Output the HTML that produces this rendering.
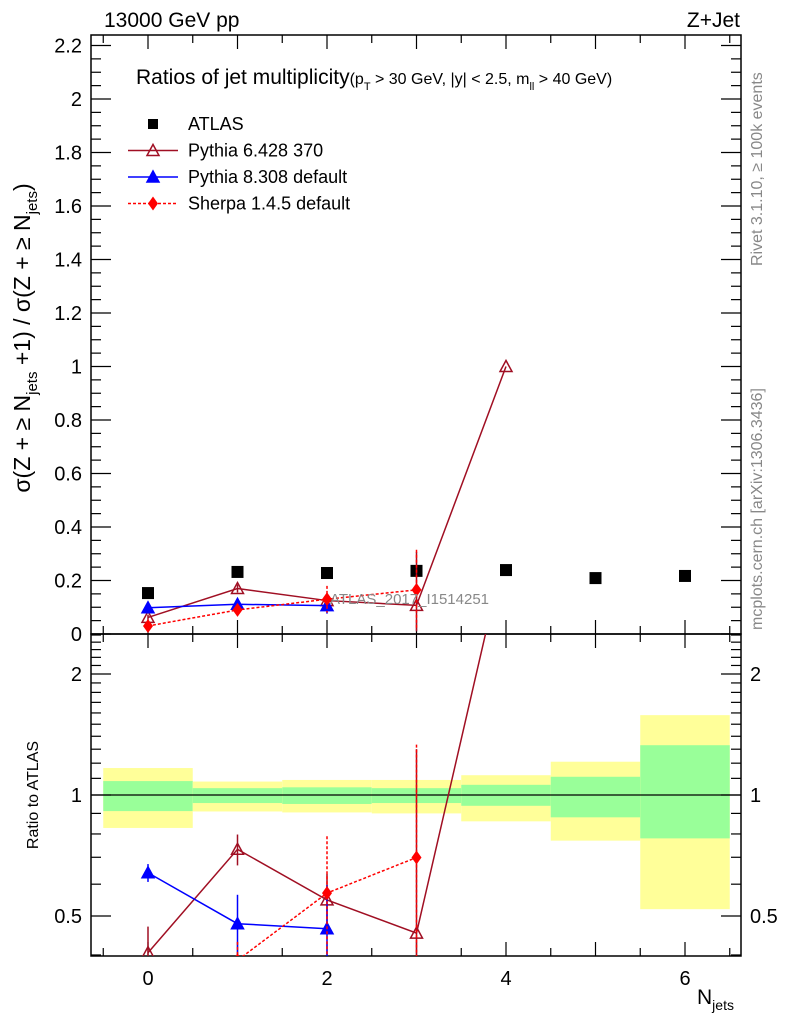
<!DOCTYPE html>
<html><head><meta charset="utf-8"><style>
html,body{margin:0;background:#fff;overflow:hidden;width:786px;height:1024px;}
svg{display:block;}
svg text{font-family:"Liberation Sans",sans-serif;}
</style></head><body>
<svg id="c" width="786" height="1024" xmlns="http://www.w3.org/2000/svg"></svg>
<script>
const categories=[0,1,2,3,4,5,6];
const atlas=[0.153,0.232,0.228,0.236,0.239,0.209,0.217];
const py6=[0.062,0.17,0.125,0.107,1.0];
const py6Err=[0.01,0.015,0.02,0.2,0];
const py8=[0.098,0.111,0.106];
const py8Err=[0.005,0.02,0.03];
const sherpa=[0.03,0.09,0.13,0.165];
const sherpaErr=[0.005,0.01,0.05,0.15];
const greenLo=[0.912,0.955,0.95,0.955,0.94,0.88,0.78];
const greenHi=[1.083,1.04,1.045,1.04,1.06,1.11,1.33];
const yellowLo=[0.828,0.91,0.905,0.90,0.86,0.77,0.52];
const yellowHi=[1.167,1.08,1.09,1.09,1.12,1.21,1.58];
const mainTicks=[0,0.2,0.4,0.6,0.8,1,1.2,1.4,1.6,1.8,2,2.2];
const mainTickLabels=["0","0.2","0.4","0.6","0.8","1","1.2","1.4","1.6","1.8","2","2.2"];
const xTickLabels=["0","2","4","6"];

const svg=document.getElementById('c');
const NS="http://www.w3.org/2000/svg";
const L=91,R=741,T=35,MB=634,RB=956;
const X=v=>148+(v)*89.5;
const Y=v=>634-v*267.5;
const RY=v=>795-402*Math.log10(v);
function el(tag,attrs,parent){const e=document.createElementNS(NS,tag);for(const k in attrs)e.setAttribute(k,attrs[k]);(parent||svg).appendChild(e);return e;}
function txt(s,x,y,attrs){const t=el('text',Object.assign({x:x,y:y},attrs||{}));t.textContent=s;return t;}

const defs=el('defs',{});
const c1=el('clipPath',{id:'cm'},defs);el('rect',{x:L,y:T,width:R-L,height:MB-T},c1);
const c2=el('clipPath',{id:'cr'},defs);el('rect',{x:L,y:MB,width:R-L,height:RB-MB},c2);

const gb=el('g',{'clip-path':'url(#cr)'});


categories.forEach((c,i)=>{
  const r1=el('rect',{x:X(c-0.5),y:RY(yellowHi[i]),width:89.5,height:RY(yellowLo[i])-RY(yellowHi[i]),fill:'#ffff99'},gb);
  
  
  const r2=el('rect',{x:X(c-0.5),y:RY(greenHi[i]),width:89.5,height:RY(greenLo[i])-RY(greenHi[i]),fill:'#99ff99'},gb);
  
  
});
el('line',{x1:L,x2:R,y1:RY(1),y2:RY(1),stroke:'#000','stroke-width':1.2});

el('rect',{x:L,y:T,width:R-L,height:MB-T,fill:'none',stroke:'#000','stroke-width':1.5});
el('rect',{x:L,y:MB,width:R-L,height:RB-MB,fill:'none',stroke:'#000','stroke-width':1.5});

for(let v=-0.5;v<=6.6;v+=0.5){
  const major=Number.isInteger(v);const len=major?14:8;
  [[T,1],[MB,-1],[MB,1],[RB,-1]].forEach(([y,d])=>el('line',{x1:X(v),x2:X(v),y1:y,y2:y+d*len,stroke:'#000','stroke-width':1.2}));
}
xTickLabels.forEach(s=>{const t=txt(s,X(+s),985,{'font-size':20,'text-anchor':'middle'});});

for(let v=0;v<=2.24;v+=0.05){const major=Math.abs(v*10-Math.round(v*10))<1e-6&&Math.round(v*10)%2===0;const len=major?20:10;
  el('line',{x1:L,x2:L+len,y1:Y(v),y2:Y(v),stroke:'#000','stroke-width':1.2});
  el('line',{x1:R,x2:R-len,y1:Y(v),y2:Y(v),stroke:'#000','stroke-width':1.2});}
mainTicks.forEach((v,i)=>{const t=txt(mainTickLabels[i],82,Y(v)+7,{'font-size':20,'text-anchor':'end'});});

const rt=[0.4,0.5,0.6,0.7,0.8,0.9,1,1.1,1.2,1.3,1.4,1.5,1.6,1.7,1.8,1.9,2,2.1,2.2,2.3,2.4,2.5];
rt.forEach(v=>{const major=(v===0.5||v===1||v===2);const len=major?20:10;
  el('line',{x1:L,x2:L+len,y1:RY(v),y2:RY(v),stroke:'#000','stroke-width':1.2});
  el('line',{x1:R,x2:R-len,y1:RY(v),y2:RY(v),stroke:'#000','stroke-width':1.2});});
[[0.5,'0.5'],[1,'1'],[2,'2']].forEach(([v,s])=>{txt(s,82,RY(v)+7,{'font-size':20,'text-anchor':'end'});txt(s,750,RY(v)+7,{'font-size':20});});

function series(vals,errs,color,dash,marker,clip,yf,name){
  const g=el('g',{'clip-path':clip});
  
  
  const pts=vals.map((v,i)=>X(categories[i])+','+yf(v)).join(' ');
  if(color)el('polyline',{points:pts,fill:'none',stroke:color,'stroke-width':1.5,'stroke-dasharray':dash||''},g);
  vals.forEach((v,i)=>{const x=X(categories[i]),y=yf(v);
    if(errs&&errs[i]>0){el('line',{x1:x,x2:x,y1:yf(v+errs[i]),y2:yf(Math.max(v-errs[i],0.01)),stroke:color,'stroke-width':1.5,'stroke-dasharray':dash||''},g);}
    marker(g,x,y);});
}
const sq=(g,x,y)=>el('rect',{x:x-6,y:y-6,width:12,height:12,fill:'#000'},g);
const tri=(c,f)=>(g,x,y)=>el('polygon',{points:`${x-6},${y+5} ${x+6},${y+5} ${x},${y-6}`,fill:f,stroke:c,'stroke-width':1.5},g);
const dia=(g,x,y)=>el('polygon',{points:`${x},${y-7} ${x+5},${y} ${x},${y+7} ${x-5},${y}`,fill:'#ff0000'},g);

series(atlas,null,null,null,sq,'url(#cm)',Y,'atlas-data');
series(py6,py6Err,'#a00f23',null,tri('#a00f23','none'),'url(#cm)',Y,'pythia6-series');
series(py8,py8Err,'#0000ff',null,tri('#0000ff','#0000ff'),'url(#cm)',Y,'pythia8-series');
series(sherpa,sherpaErr,'#ff0000','3,2',dia,'url(#cm)',Y,'sherpa-series');

const rat=a=>a.map((v,i)=>v/atlas[i]);
series(rat(py6),rat(py6Err),'#a00f23',null,tri('#a00f23','none'),'url(#cr)',RY,'pythia6-ratio');
series(rat(py8),rat(py8Err),'#0000ff',null,tri('#0000ff','#0000ff'),'url(#cr)',RY,'pythia8-ratio');
series(rat(sherpa),rat(sherpaErr),'#ff0000','3,2',dia,'url(#cr)',RY,'sherpa-ratio');

txt('13000 GeV pp',104,27,{'font-size':21});
txt('Z+Jet',740,27,{'font-size':21,'text-anchor':'end'});
const ti=txt('',136,84,{'font-size':21});
ti.innerHTML='Ratios of jet multiplicity<tspan font-size="16">(p</tspan><tspan font-size="11" dy="6">T</tspan><tspan font-size="16" dy="-6"> &gt; 30 GeV, |y| &lt; 2.5, m</tspan><tspan font-size="11" dy="6">ll</tspan><tspan font-size="16" dy="-6"> &gt; 40 GeV)</tspan>';

const legend=[['ATLAS',sq,null,null],['Pythia 6.428 370',tri('#a00f23','none'),'#a00f23',null],['Pythia 8.308 default',tri('#0000ff','#0000ff'),'#0000ff',null],['Sherpa 1.4.5 default',dia,'#ff0000','3,2']];
legend.forEach((l,i)=>{const y=124+i*26.5;const g=el('g',{});
  
  
  if(l[2])el('line',{x1:128,x2:178,y1:y,y2:y,stroke:l[2],'stroke-width':1.5,'stroke-dasharray':l[3]||''},g);
  if(i===0)el('rect',{x:148,y:y-5,width:10,height:10,fill:'#000'},g);else l[1](g,153,y);
  const lt=txt(l[0],188,y+6,{'font-size':18});
  
  });
txt('ATLAS_2017_I1514251',330,604,{'font-size':15,fill:'#888'});
const yl=txt('',0,0,{'font-size':23,transform:'translate(30,338) rotate(-90)','text-anchor':'middle'});
yl.innerHTML='σ(Z + ≥ N<tspan font-size="15" dy="7">jets</tspan><tspan dy="-7"> +1) / σ(Z + ≥ N</tspan><tspan font-size="15" dy="7">jets</tspan><tspan dy="-7">)</tspan>';

txt('Ratio to ATLAS',0,0,{'font-size':16,transform:'translate(38,795) rotate(-90)','text-anchor':'middle'});
const xl=txt('',697,1004,{'font-size':21});
xl.innerHTML='N<tspan font-size="14" dy="6">jets</tspan>';

txt('Rivet 3.1.10, ≥ 100k events',0,0,{'font-size':16,fill:'#888',transform:'translate(762,266) rotate(-90)'});
txt('mcplots.cern.ch [arXiv:1306.3436]',0,0,{'font-size':16,fill:'#888',transform:'translate(762,630) rotate(-90)'});
</script>
</body></html>
